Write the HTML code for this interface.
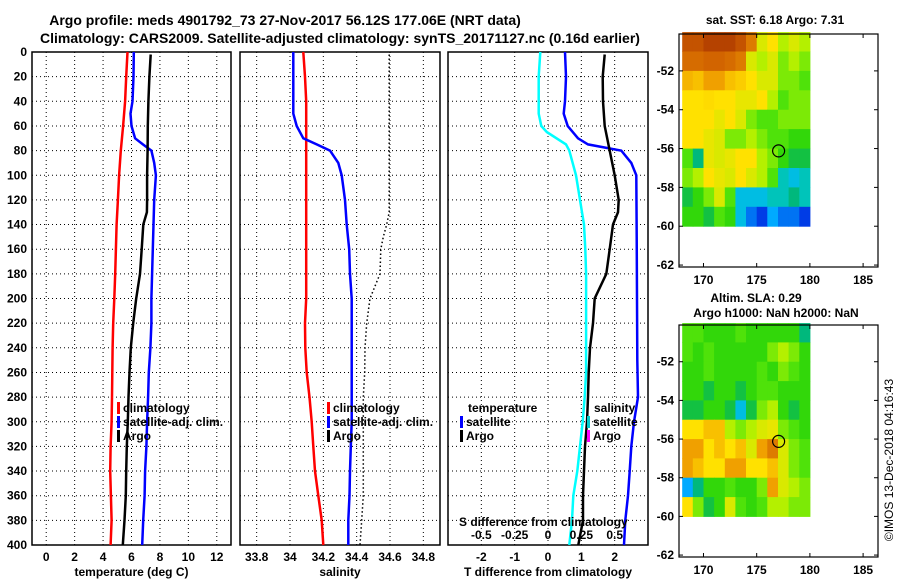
<!DOCTYPE html>
<html><head><meta charset="utf-8"><style>
html,body{margin:0;padding:0;background:#fff;}
svg{display:block;font-family:"Liberation Sans",sans-serif;font-weight:bold;}
</style></head><body>
<svg id="c" width="900" height="580" viewBox="0 0 900 580" xmlns="http://www.w3.org/2000/svg">
<text x="285" y="25" font-size="14" text-anchor="middle">Argo profile: meds 4901792_73 27-Nov-2017 56.12S 177.06E (NRT data)</text>
<text x="340" y="43" font-size="14" text-anchor="middle">Climatology: CARS2009. Satellite-adjusted climatology: synTS_20171127.nc (0.16d earlier)</text>
<g id="g"></g>
</svg>
<script>
// ---- data ----
const depthTicks = [0,20,40,60,80,100,120,140,160,180,200,220,240,260,280,300,320,340,360,380,400];
const tTicks = [0,2,4,6,8,10,12];
const sTicks = [33.8,34,34.2,34.4,34.6,34.8];
const sTickLabels = ["33.8","34","34.2","34.4","34.6","34.8"];
const dtTicks = [-2,-1,0,1,2];
const dsTicks = [-0.5,-0.25,0,0.25,0.5];
const dsTickLabels = ["-0.5","-0.25","0","0.25","0.5"];

const climTDepth = [0,20,40,60,80,100,120,140,160,180,200,220,240,260,280,300,320,340,360,380,400];
const climT = [5.72,5.63,5.55,5.41,5.25,5.13,5.04,4.95,4.9,4.85,4.79,4.71,4.67,4.65,4.63,4.6,4.53,4.5,4.55,4.6,4.53];
const satTDepth = [0,20,40,50,60,70,75,80,90,100,120,140,160,180,200,220,240,260,280,300,320,340,360,380,400];
const satT = [6.16,6.14,6.07,5.93,6.0,6.25,6.8,7.4,7.6,7.72,7.6,7.55,7.5,7.45,7.4,7.4,7.33,7.22,7.17,7.1,7.05,6.96,6.92,6.82,6.75];
const argoTDepth = [2,20,40,60,80,100,120,130,140,160,180,200,220,240,260,280,300,320,340,360,380,400];
const argoT = [7.35,7.26,7.19,7.15,7.13,7.1,7.1,7.08,6.83,6.72,6.6,6.33,6.12,5.95,5.86,5.79,5.74,5.67,5.63,5.6,5.51,5.39];

const climSDepth = [0,20,40,100,200,220,240,260,280,300,320,340,360,380,400];
const climS = [34.08,34.09,34.097,34.097,34.097,34.09,34.092,34.1,34.117,34.13,34.14,34.15,34.17,34.19,34.2];
const satSDepth = [0,20,50,60,70,75,80,90,100,120,140,160,180,200,300,320,340,360,380,400];
const satS = [34.02,34.02,34.02,34.04,34.08,34.16,34.24,34.29,34.31,34.33,34.34,34.355,34.36,34.37,34.37,34.365,34.36,34.357,34.35,34.35];
const argoSDepth = [2,130,140,150,160,180,190,200,220,240,260,280,300,360,380,400];
const argoS = [34.595,34.595,34.58,34.56,34.545,34.54,34.51,34.48,34.46,34.45,34.448,34.44,34.44,34.44,34.43,34.42];

const dTsatDepth = [0,20,40,50,60,70,75,80,90,100,150,200,250,280,300,320,340,360,380,400];
const dTsat = [0.51,0.54,0.51,0.47,0.59,0.9,1.2,2.2,2.5,2.65,2.66,2.67,2.68,2.7,2.58,2.5,2.45,2.4,2.32,2.28];
const dSsatDepth = [0,20,50,60,65,75,80,100,120,140,160,180,260,280,300,320,340,360,380,400];
const dSsat = [-0.058,-0.07,-0.07,-0.05,-0.008,0.135,0.16,0.21,0.24,0.27,0.28,0.286,0.286,0.275,0.26,0.24,0.22,0.19,0.18,0.16];
const dTargoDepth = [2,20,40,60,80,100,120,130,140,160,180,200,220,240,260,280,300,320,340,360,380,400];
const dTargo = [1.7,1.64,1.65,1.7,1.85,2.0,2.12,2.1,1.95,1.85,1.75,1.4,1.35,1.26,1.22,1.2,1.17,1.11,1.08,1.05,1.05,0.91];

const mapLons = [168,169,170,171,172,173,174,175,176,177,178,179];
const mapLats = [-50,-51,-52,-53,-54,-55,-56,-57,-58,-59];
const sstGrid = [
[0.95,0.95,0.97,0.97,0.97,0.95,0.9,0.7,0.75,0.65,0.7,0.65],
[0.92,0.92,0.93,0.93,0.92,0.9,0.7,0.65,0.7,0.6,0.65,0.6],
[0.82,0.8,0.85,0.85,0.8,0.78,0.75,0.7,0.7,0.6,0.6,0.55],
[0.75,0.75,0.76,0.75,0.75,0.72,0.72,0.75,0.65,0.55,0.6,0.6],
[0.75,0.75,0.75,0.72,0.75,0.7,0.6,0.55,0.55,0.6,0.6,0.6],
[0.75,0.75,0.72,0.7,0.6,0.6,0.65,0.6,0.55,0.55,0.5,0.5],
[0.55,0.4,0.72,0.7,0.72,0.75,0.75,0.65,0.6,0.5,0.45,0.45],
[0.6,0.65,0.75,0.72,0.7,0.75,0.7,0.65,0.55,0.35,0.3,0.35],
[0.45,0.5,0.6,0.7,0.55,0.3,0.3,0.3,0.35,0.35,0.4,0.35],
[0.5,0.5,0.45,0.55,0.5,0.3,0.2,0.15,0.25,0.2,0.2,0.15]];
const slaGrid = [
[0.55,0.55,0.5,0.5,0.5,0.55,0.5,0.5,0.5,0.5,0.5,0.4],
[0.55,0.5,0.55,0.5,0.5,0.5,0.5,0.5,0.6,0.65,0.6,0.5],
[0.5,0.5,0.55,0.5,0.5,0.5,0.5,0.55,0.5,0.6,0.55,0.5],
[0.5,0.5,0.45,0.5,0.5,0.45,0.5,0.55,0.55,0.5,0.5,0.5],
[0.45,0.45,0.5,0.5,0.45,0.3,0.45,0.6,0.65,0.5,0.45,0.5],
[0.75,0.75,0.8,0.8,0.65,0.6,0.65,0.7,0.72,0.6,0.55,0.5],
[0.85,0.85,0.75,0.8,0.75,0.8,0.7,0.85,0.9,0.7,0.6,0.55],
[0.85,0.8,0.75,0.75,0.85,0.85,0.75,0.75,0.8,0.7,0.6,0.55],
[0.25,0.4,0.5,0.5,0.55,0.5,0.5,0.6,0.85,0.7,0.65,0.6],
[0.75,0.6,0.45,0.5,0.7,0.55,0.5,0.55,0.65,0.65,0.6,0.6]];
const mapLatTicks = [-52,-54,-56,-58,-60,-62];
const mapLonTicks = [170,175,180,185];
const argoPos = [177.06,-56.12];

// ---- drawing ----
const NS='http://www.w3.org/2000/svg';
const G=document.getElementById('g');
function el(tag,attrs,parent,txt){const e=document.createElementNS(NS,tag);for(const k in attrs)e.setAttribute(k,attrs[k]);if(txt!==undefined)e.textContent=txt;(parent||G).appendChild(e);return e;}
const Y0=52,Y1=545;
function yD(d){return Y0+(d/400)*(Y1-Y0);}
function lin(d0,d1,r0,r1){return v=>r0+(v-d0)/(d1-d0)*(r1-r0);}

function panel(x0,x1,name,xs,ticks,labels,title,leftLabels){
  const g=el('g',{});
  
  
  ticks.forEach((t,i)=>{const x=xs(t);
    const l=el('line',{x1:x,x2:x,y1:Y0,y2:Y1,stroke:'#000','stroke-width':1,'stroke-dasharray':'1,3'},g);
    
    const tx=el('text',{x:x,y:561,'font-size':12,'text-anchor':'middle'},g,labels?labels[i]:String(t));
    
  });
  depthTicks.forEach(d=>{const y=yD(d);
    if(d>0&&d<400){const l=el('line',{x1:x0,x2:x1,y1:y,y2:y,stroke:'#000','stroke-width':1,'stroke-dasharray':'1,3'},g);
    }
    if(leftLabels){const tx=el('text',{x:27,y:y+4,'font-size':12,'text-anchor':'end'},g,String(d));
    }
  });
  const r=el('rect',{x:x0,y:Y0,width:x1-x0,height:Y1-Y0,fill:'none',stroke:'#000','stroke-width':1.5},g);
  
  const tt=el('text',{x:(x0+x1)/2,y:576,'font-size':12,'text-anchor':'middle'},g,title);
  
  return g;
}
function series(g,xs,depths,vals,color,name,dash){
  const pts=vals.map((v,i)=>xs(v).toFixed(1)+','+yD(depths[i]).toFixed(1)).join(' ');
  const p=el('polyline',{points:pts,fill:'none',stroke:color,'stroke-width':dash?1.5:2.5,'stroke-dasharray':dash||'none'},g);
  
}
function legend(g,x,y,color,label,name){
  if(color){const b=el('rect',{x:x,y:y-10,width:3,height:12,fill:color},g);
  }
  const t=el('text',{x:x+6,y:y,'font-size':12},g,label);
  
}

// panel 1
const xT=lin(-1,13,32,231);
const p1=panel(32,231,'temperature-panel',xT,tTicks,null,'temperature (deg C)',true);
series(p1,xT,climTDepth,climT,'#f00','climatology-temperature-line');
series(p1,xT,satTDepth,satT,'#00f','satellite-temperature-line');
series(p1,xT,argoTDepth,argoT,'#000','argo-temperature-line');
legend(p1,117,412,'#f00','climatology','legend-climatology');
legend(p1,117,426,'#00f','satellite-adj. clim.','legend-satellite');
legend(p1,117,440,'#000','Argo','legend-argo');

// panel 2
const xS=lin(33.7,34.9,240,440);
const p2=panel(240,440,'salinity-panel',xS,sTicks,sTickLabels,'salinity',false);
series(p2,xS,climSDepth,climS,'#f00','climatology-salinity-line');
series(p2,xS,satSDepth,satS,'#00f','satellite-salinity-line');
series(p2,xS,argoSDepth,argoS,'#000','argo-salinity-line','1.5,2.5');
legend(p2,327,412,'#f00','climatology','legend-climatology');
legend(p2,327,426,'#00f','satellite-adj. clim.','legend-satellite');
legend(p2,327,440,'#000','Argo','legend-argo');

// panel 3
const xdT=lin(-3,3,448,648);
const xdS=lin(-0.75,0.75,448,648);
const p3=panel(448,648,'difference-panel',xdT,dtTicks,null,'T difference from climatology',false);
series(p3,xdS,dSsatDepth,dSsat,'#0ff','satellite-salinity-diff-line');
series(p3,xdT,dTsatDepth,dTsat,'#00f','satellite-temperature-diff-line');
series(p3,xdT,dTargoDepth,dTargo,'#000','argo-temperature-diff-line');
legend(p3,462,412,null,'temperature','legend-temperature-heading');
legend(p3,460,426,'#00f','satellite','legend-t-satellite');
legend(p3,460,440,'#000','Argo','legend-t-argo');
legend(p3,588,412,null,'salinity','legend-salinity-heading');
legend(p3,587,426,'#0cc','satellite','legend-s-satellite');
legend(p3,587,440,'#f0f','Argo','legend-s-argo');
const st=el('text',{x:459,y:526,'font-size':12},p3,'S difference from climatology');

dsTicks.forEach((t,i)=>{const tx=el('text',{x:xdS(t),y:539,'font-size':12,'text-anchor':'middle'},p3,dsTickLabels[i]);
  });

// maps
const stops=[[0,[0,0,170]],[0.15,[0,60,230]],[0.25,[0,170,255]],[0.33,[0,200,210]],[0.42,[0,180,100]],[0.5,[50,215,10]],[0.57,[90,230,10]],[0.65,[180,240,0]],[0.75,[255,225,0]],[0.85,[240,160,0]],[0.93,[210,100,0]],[1,[160,40,0]]];
function cmap(v){for(let i=1;i<stops.length;i++){if(v<=stops[i][0]){const a=stops[i-1],b=stops[i],f=(v-a[0])/(b[0]-a[0]);
  const c=a[1].map((x,k)=>Math.round(x+(b[1][k]-x)*f));return 'rgb('+c.join(',')+')';}}return 'rgb(160,40,0)';}
function map(top,bottom,name,grid,titles){
  const mx=lin(167.7,186.4,679,878);
  const my=lin(-50.1,-62.1,top,bottom);
  const g=el('g',{});
  
  grid.forEach((row,i)=>row.forEach((v,j)=>{
    const x=mx(mapLons[j]),y=my(mapLats[i]);
    const c=el('rect',{x:x.toFixed(1),y:y.toFixed(1),width:(mx(mapLons[j]+1)-x+0.5).toFixed(1),height:(my(mapLats[i]-1)-y+0.5).toFixed(1),fill:cmap(v)},g);
    
  }));
  const circ=el('circle',{cx:mx(argoPos[0]),cy:my(argoPos[1]),r:6,fill:'none',stroke:'#000','stroke-width':1.2},g);
  
  const fr=el('rect',{x:679,y:top,width:199,height:bottom-top,fill:'none',stroke:'#000','stroke-width':1.2},g);
  
  mapLatTicks.forEach(t=>{const y=my(t);
    el('line',{x1:679,x2:683,y1:y,y2:y,stroke:'#000'},g);el('line',{x1:874,x2:878,y1:y,y2:y,stroke:'#000'},g);
    const tx=el('text',{x:674,y:y+4,'font-size':12,'text-anchor':'end'},g,String(t));
    });
  mapLonTicks.forEach(t=>{const x=mx(t);
    el('line',{x1:x,x2:x,y1:top,y2:top+4,stroke:'#000'},g);el('line',{x1:x,x2:x,y1:bottom-4,y2:bottom,stroke:'#000'},g);
    const tx=el('text',{x:x,y:bottom+17,'font-size':12,'text-anchor':'middle'},g,String(t));
    });
  titles.forEach((t,i)=>{const tx=el('text',{x:t[1],y:t[2],'font-size':12,'text-anchor':'middle'},g,t[0]);
    });
}
map(34,267,'sst-map',sstGrid,[['sat. SST: 6.18 Argo: 7.31',775,24]]);
map(325,557,'sla-map',slaGrid,[['Altim. SLA: 0.29',756,302],['Argo h1000: NaN h2000: NaN',776,317]]);
const cr=el('text',{x:0,y:0,'font-size':12,'font-weight':'normal',transform:'translate(893,460) rotate(-90)','text-anchor':'middle'},G,'©IMOS 13-Dec-2018 04:16:43');

</script>
</body></html>
